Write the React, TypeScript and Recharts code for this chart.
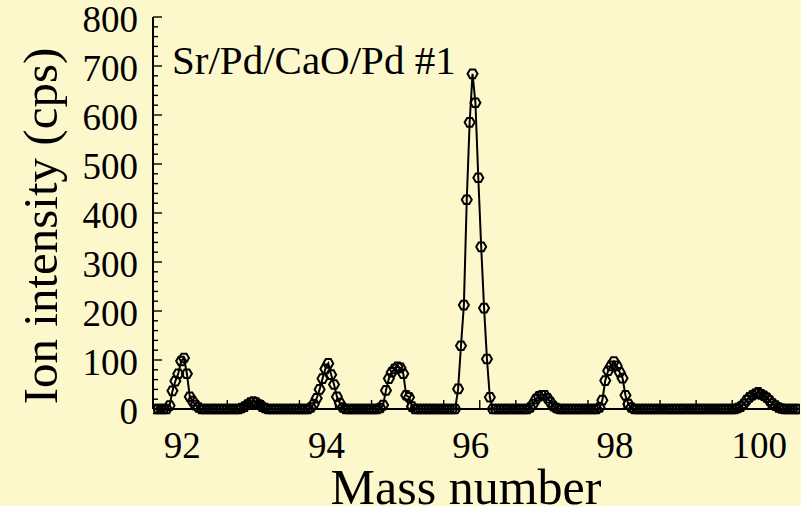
import { Line, LineChart, XAxis, YAxis } from "recharts";

// scan sampling: mass = scanStart + i * scanStep
const scanStart = 91.5;
const scanStep = 0.04;

// intensities (cps), one row per mass unit of the scan
const row915 = [0, 0, 0, 0, 0, 7, 37, 57, 72, 98, 104, 72, 25, 16, 8, 3, 0, 0, 0, 0, 0, 0, 0, 0, 0];
const row925 = [0, 0, 0, 0, 0, 2, 5, 9, 13, 15, 13, 9, 5, 2, 0, 0, 0, 0, 0, 0, 0, 0, 0, 0, 0];
const row935 = [0, 0, 0, 0, 3, 10, 22, 40, 62, 82, 93, 70, 50, 25, 12, 3, 0, 0, 0, 0, 0, 0, 0, 0, 0];
const row945 = [0, 0, 0, 2, 8, 38, 62, 75, 82, 86, 84, 72, 28, 24, 5, 0, 0, 0, 0, 0, 0, 0, 0, 0, 0];
const row955 = [0, 0, 0, 0, 0, 41, 129, 212, 427, 585, 684, 625, 472, 331, 206, 102, 24, 0, 0, 0, 0, 0, 0, 0, 0];
const row965 = [0, 0, 0, 0, 0, 3, 10, 20, 26, 28, 28, 22, 14, 6, 2, 0, 0, 0, 0, 0, 0, 0, 0, 0, 0];
const row975 = [0, 0, 0, 0, 3, 18, 58, 78, 88, 97, 88, 75, 63, 28, 10, 3, 0, 0, 0, 0, 0, 0, 0, 0, 0];
const row985 = [0, 0, 0, 0, 0, 0, 0, 0, 0, 0, 0, 0, 0, 0, 0, 0, 0, 0, 0, 0, 0, 0, 0, 0, 0];
const row995 = [0, 0, 2, 5, 10, 18, 24, 28, 31, 34, 30, 27, 23, 17, 11, 7, 3, 1, 0, 0, 0, 0, 0, 0];

const intensity = [...row915, ...row925, ...row935, ...row945, ...row955, ...row965, ...row975, ...row985, ...row995];

const massTicks = [92, 92.5, 93, 93.5, 94, 94.5, 95, 95.5, 96, 96.5, 97, 97.5, 98, 98.5, 99, 99.5, 100];
const massLabels = [92, 94, 96, 98, 100];
const cpsTicks = [
  0, 20, 40, 60, 80, 100, 120, 140, 160, 180, 200, 220, 240, 260, 280, 300, 320, 340, 360, 380, 400,
  420, 440, 460, 480, 500, 520, 540, 560, 580, 600, 620, 640, 660, 680, 700, 720, 740, 760, 780, 800,
];

const data = intensity.map((cps, i) => ({ mass: +(scanStart + i * scanStep).toFixed(2), cps }));

const FONT = '"Liberation Serif", "DejaVu Serif", serif';
const BG = "#FCF8CC";

const HexDot = (props: any) => {
  const { cx, cy, index } = props;
  if (cx == null || cy == null) return <g key={index} />;
  const r = 5;
  const pts = [0, 1, 2, 3, 4, 5]
    .map((k) => {
      const a = (Math.PI / 3) * k;
      return `${cx + r * Math.cos(a)},${cy + r * Math.sin(a)}`;
    })
    .join(" ");
  return <polygon key={index} points={pts} fill="none" stroke="#000" strokeWidth={2} />;
};

const LeftTick = ({ x, y, payload }: any) => {
  const major = payload.value % 100 === 0;
  return (
    <g>
      <line x1={x} x2={x + (major ? 9 : 5)} y1={y} y2={y} stroke="#000" strokeWidth={1.4} />
      {major && (
        <text x={x - 15} y={y + 2} dy="0.35em" textAnchor="end" fill="#000" style={{ fontFamily: FONT, fontSize: 37 }}>
          {payload.value}
        </text>
      )}
    </g>
  );
};

const RightTick = ({ x, y, payload }: any) => {
  const major = payload.value % 100 === 0;
  return <line x1={x} x2={x - (major ? 9 : 5)} y1={y} y2={y} stroke="#000" strokeWidth={1.4} />;
};

const TopTick = ({ x, y }: any) => <line x1={x} x2={x} y1={y} y2={y + 9} stroke="#000" strokeWidth={1.4} />;

const BottomTick = ({ x, y, payload }: any) => (
  <g>
    <line x1={x} x2={x} y1={y} y2={y - 9} stroke="#000" strokeWidth={1.4} />
    {massLabels.includes(payload.value) && (
      <text x={x - 9} y={y + 36} dy="0.35em" textAnchor="middle" fill="#000" style={{ fontFamily: FONT, fontSize: 37 }}>
        {payload.value}
      </text>
    )}
  </g>
);

export default function App() {
  return (
    <div style={{ position: "absolute", left: 0, top: 0, width: 801, height: 506, background: BG, overflow: "hidden" }}>
      <LineChart width={801} height={506} data={data} margin={{ top: 17, right: 1, bottom: 0, left: 0 }}>
        <XAxis
          xAxisId="b"
          dataKey="mass"
          type="number"
          domain={[91.47, 100.44]}
          allowDataOverflow
          ticks={massTicks}
          interval={0}
          height={97}
          tickSize={0}
          tickMargin={0}
          tickLine={false}
          tick={BottomTick}
          axisLine={{ stroke: "#000", strokeWidth: 2 }}
        />
        <XAxis
          xAxisId="t"
          orientation="top"
          dataKey="mass"
          type="number"
          domain={[91.47, 100.44]}
          allowDataOverflow
          ticks={massTicks}
          interval={0}
          height={0}
          tickSize={0}
          tickMargin={0}
          tickLine={false}
          tick={TopTick}
          axisLine={{ stroke: "#000", strokeWidth: 2 }}
        />
        <YAxis
          yAxisId="l"
          type="number"
          domain={[0, 800]}
          ticks={cpsTicks}
          interval={0}
          width={153}
          tickSize={0}
          tickMargin={0}
          tickLine={false}
          tick={LeftTick}
          axisLine={{ stroke: "#000", strokeWidth: 2 }}
        />
        <YAxis
          yAxisId="r"
          orientation="right"
          type="number"
          domain={[0, 800]}
          ticks={cpsTicks}
          interval={0}
          width={0}
          tickSize={0}
          tickMargin={0}
          tickLine={false}
          tick={RightTick}
          axisLine={{ stroke: "#000", strokeWidth: 2 }}
        />
        <Line
          xAxisId="b"
          yAxisId="l"
          dataKey="cps"
          type="linear"
          stroke="#000"
          strokeWidth={2}
          dot={HexDot}
          isAnimationActive={false}
        />
      </LineChart>
      <div style={{ position: "absolute", left: 172, top: 40, fontFamily: FONT, fontSize: 41, lineHeight: 1, whiteSpace: "nowrap" }}>
        Sr/Pd/CaO/Pd #1
      </div>
      <div
        style={{
          position: "absolute",
          left: 40,
          top: 226,
          transform: "translate(-50%, -50%) rotate(-90deg)",
          fontFamily: FONT,
          fontSize: 49,
          lineHeight: 1,
          whiteSpace: "nowrap",
        }}
      >
        Ion intensity (cps)
      </div>
      <div
        style={{
          position: "absolute",
          left: 466,
          top: 487,
          transform: "translate(-50%, -50%)",
          fontFamily: FONT,
          fontSize: 50,
          lineHeight: 1,
          whiteSpace: "nowrap",
        }}
      >
        Mass number
      </div>
    </div>
  );
}
